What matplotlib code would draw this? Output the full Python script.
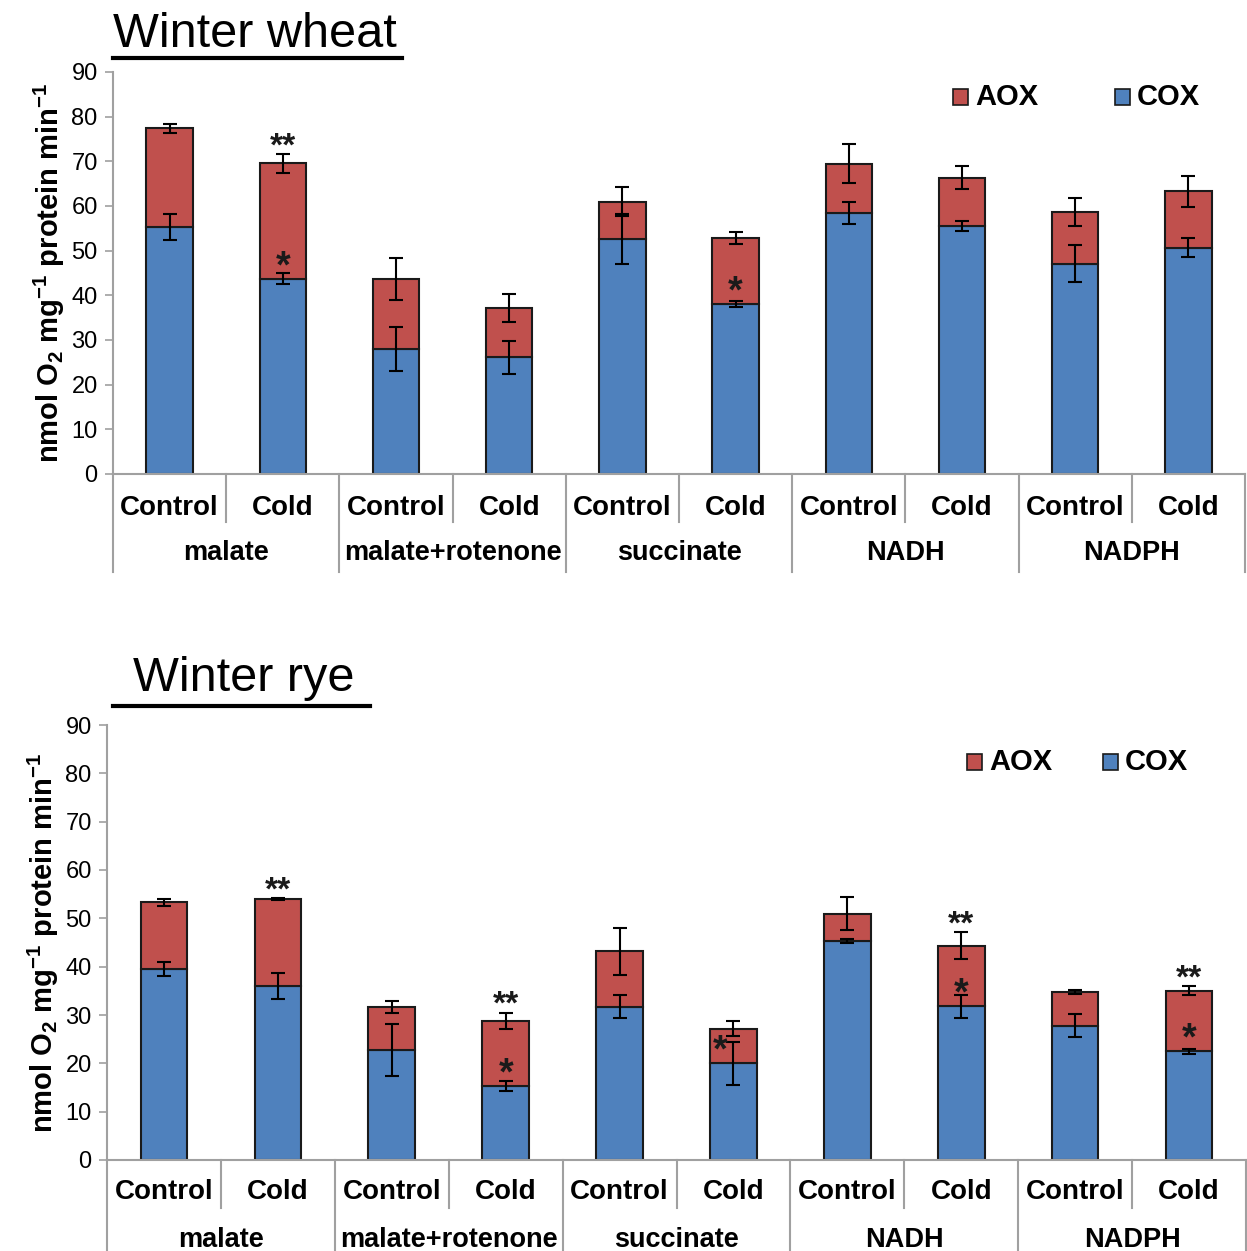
import matplotlib
matplotlib.use('Agg')
from matplotlib import pyplot as plt
from matplotlib.lines import Line2D
import numpy as np

plt.rcParams['font.family'] = ['Liberation Sans', 'DejaVu Sans']
plt.rcParams['mathtext.fontset'] = 'custom'
plt.rcParams['mathtext.rm'] = 'Liberation Sans'
plt.rcParams['mathtext.bf'] = 'Liberation Sans:bold'

groups = ['malate', 'malate+rotenone', 'succinate', 'NADH', 'NADPH']
conds = ['Control', 'Cold']

wheat_cox = [55.3, 43.7, 28.0, 26.1, 52.6, 38.1, 58.4, 55.6, 47.1, 50.7]
wheat_aox = [22.1, 25.9, 15.6, 11.0, 8.4, 14.8, 11.1, 10.7, 11.6, 12.6]
wheat_cox_err = [3.0, 1.2, 4.9, 3.6, 5.6, 0.6, 2.4, 1.1, 4.2, 2.1]
wheat_tot_err = [1.0, 2.1, 4.7, 3.1, 3.2, 1.3, 4.4, 2.6, 3.1, 3.5]
wheat_dstar = [1]          # ** above bar
wheat_star = [1, 5]        # * inside AOX part

rye_cox = [39.5, 36.0, 22.8, 15.3, 31.7, 20.0, 45.3, 31.8, 27.8, 22.5]
rye_aox = [13.8, 18.0, 8.9, 13.5, 11.5, 7.2, 5.7, 12.5, 7.0, 12.5]
rye_cox_err = [1.5, 2.7, 5.4, 1.0, 2.4, 4.5, 0.4, 2.4, 2.4, 0.5]
rye_tot_err = [0.8, 0.2, 1.2, 1.7, 4.9, 1.5, 3.5, 2.8, 0.4, 0.9]
rye_dstar = [1, 3, 7, 9]
rye_star = [3, 5, 7, 9]

BLUE = '#4F81BD'
RED = '#C0504D'
GREY = '#A0A0A0'

W, H = 1247, 1251
fig = plt.figure(figsize=(W / 100, H / 100), dpi=100)


def panel(rect, title, title_x, title_y, line_x, line_y, cox, aox, cox_err, tot_err,
          dstar, star, leg_y, leg_x1, leg_x2, lab1, lab2, sep_short, sep_long):
    ax = fig.add_axes(rect)
    x = np.arange(len(cox))
    cox = np.array(cox)
    aox = np.array(aox)
    tot = cox + aox
    ax.bar(x, cox, 0.41, color=BLUE, edgecolor='#1a1a1a', linewidth=1.5, zorder=2)
    ax.bar(x, aox, 0.41, bottom=cox, color=RED, edgecolor='#1a1a1a', linewidth=1.5, zorder=2)
    ax.errorbar(x, cox, yerr=cox_err, fmt='none', ecolor='black', elinewidth=1.5,
                capsize=5, capthick=1.5, zorder=3)
    ax.errorbar(x, tot, yerr=tot_err, fmt='none', ecolor='black', elinewidth=1.5,
                capsize=5, capthick=1.5, zorder=3)
    for i in dstar:
        ax.text(x[i], tot[i] + tot_err[i] - 0.3, '**', ha='center', va='baseline',
                fontsize=24, fontweight='bold', zorder=4, color='#1a1a1a')
    for i in star:
        dx = -0.12 if (i == 5 and title == 'Winter rye') else 0
        ax.text(x[i] + dx, cox[i] + 0.4, '*', ha='center', va='baseline',
                fontsize=27, fontweight='bold', zorder=4, color='#1a1a1a')

    ax.set_xlim(-0.5, len(cox) - 0.5)
    ax.set_ylim(0, 90)
    ax.set_yticks(range(0, 91, 10))
    ax.tick_params(axis='y', labelsize=17, length=6, color=GREY, width=1.2, pad=5)
    ax.set_xticks([])
    for s in ['top', 'right']:
        ax.spines[s].set_visible(False)
    for s in ['left', 'bottom']:
        ax.spines[s].set_color(GREY)
        ax.spines[s].set_linewidth(1.5)
    ax.set_ylabel('nmol O$_\\mathbf{2}$ mg$^\\mathbf{-1}$ protein min$^\\mathbf{-1}$',
                  fontsize=21, fontweight='bold', labelpad=3)

    tr = ax.get_xaxis_transform()
    axh = rect[3] * H
    for i in range(len(cox)):
        ax.text(x[i], -lab1 / axh, conds[i % 2], transform=tr, ha='center', va='center',
                fontsize=20, fontweight='bold')
    for g, name in enumerate(groups):
        ax.text(2 * g + 0.5, -lab2 / axh, name, transform=tr, ha='center', va='center',
                fontsize=19.5, fontweight='bold')
    for b in np.arange(-0.5, len(cox), 1.0):
        long_ = (round(b + 0.5) % 2 == 0)
        depth = (sep_long if long_ else sep_short) / axh
        ax.add_line(Line2D([b, b], [0, -depth], transform=tr, color=GREY,
                           linewidth=1.5, clip_on=False))

    # title with underline
    fig.text(title_x / W, 1 - title_y / H, title, fontsize=35, ha='left', va='baseline')
    fig.add_artist(Line2D([line_x[0] / W, line_x[1] / W], [1 - line_y / H] * 2,
                          color='black', linewidth=3))

    # legend
    for lx, lbl, col in [(leg_x1, 'AOX', RED), (leg_x2, 'COX', BLUE)]:
        fig.patches.append(matplotlib.patches.Rectangle(
            (lx / W, 1 - (leg_y + 8) / H), 15 / W, 16 / H, transform=fig.transFigure,
            facecolor=col, edgecolor='#1a1a1a', linewidth=1.2))
        fig.text((lx + 22) / W, 1 - leg_y / H, lbl, fontsize=21, fontweight='bold',
                 ha='left', va='center')
    return ax


panel([113 / W, 1 - 474 / H, (1245 - 113) / W, 402 / H], 'Winter wheat', 113, 47,
      (113, 402), 58, wheat_cox, wheat_aox, wheat_cox_err, wheat_tot_err,
      wheat_dstar, wheat_star, 97, 953, 1115, 34, 79, 48, 98)
panel([107 / W, 1 - 1160 / H, (1246 - 107) / W, 435 / H], 'Winter rye', 133, 691,
      (113, 370), 706, rye_cox, rye_aox, rye_cox_err, rye_tot_err,
      rye_dstar, rye_star, 762, 967, 1103, 32, 80, 48, 95)

fig.savefig('out.png', dpi=100)
